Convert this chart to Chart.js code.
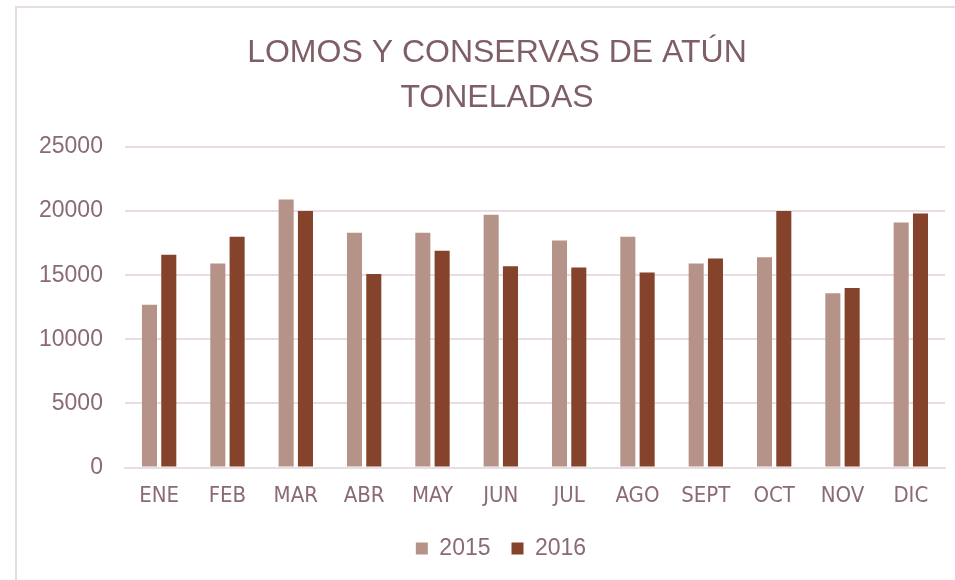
<!DOCTYPE html>
<html>
<head>
<meta charset="utf-8">
<script src="https://cdn.jsdelivr.net/npm/chart.js@4.4.0/dist/chart.umd.min.js"></script>
<style>
  html, body { margin: 0; padding: 0; background: #ffffff; overflow: hidden; width: 955px; height: 580px; }
  #frame { position: absolute; left: 15px; top: 6px; width: 980px; height: 600px; border-left: 2px solid #e6dde0; border-top: 2px solid #e6dde0; }
  #wrap { position: absolute; left: 16px; top: 8px; width: 962px; height: 572px; }
</style>
</head>
<body>
<div id="frame"></div>
<div id="wrap"><canvas id="c"></canvas></div>
<script>
const categories = ["ENE", "FEB", "MAR", "ABR", "MAY", "JUN", "JUL", "AGO", "SEPT", "OCT", "NOV", "DIC"];
const values2015 = [12700, 15900, 20900, 18300, 18300, 19700, 17700, 18000, 15900, 16400, 13600, 19100];
const values2016 = [16600, 18000, 20000, 15100, 16900, 15700, 15600, 15200, 16300, 20000, 14000, 19800];
const seriesNames = ["2015", "2016"];
const titleLines = ["LOMOS Y CONSERVAS DE ATÚN", "TONELADAS"];

const textColor = '#8a6b71';
const gridColor = '#e8dde0';
const narrowFont = "'Liberation Sans Narrow', 'DejaVu Sans Condensed', 'Liberation Sans', sans-serif";

// Center title and legend across the whole (cropped) chart frame
const recenterPlugin = {
  id: 'recenter',
  afterLayout(chart) {
    const w = chart.width;
    if (chart.titleBlock) { chart.titleBlock.left = 33; chart.titleBlock.right = w - 33; }
    if (chart.legend) { chart.legend.left = 37; chart.legend.right = w - 29; }
  }
};

new Chart(document.getElementById('c'), {
  type: 'bar',
  data: {
    labels: categories,
    datasets: [
      { label: seriesNames[0], data: values2015, backgroundColor: '#b59389', borderWidth: 0,
        categoryPercentage: 0.565, barPercentage: 0.78 },
      { label: seriesNames[1], data: values2016, backgroundColor: '#84432a', borderWidth: 0,
        categoryPercentage: 0.565, barPercentage: 0.78 }
    ]
  },
  plugins: [recenterPlugin],
  options: {
    responsive: true,
    maintainAspectRatio: false,
    animation: false,
    layout: { padding: { left: 1, right: 33, top: 0, bottom: 10 } },
    plugins: {
      tooltip: { enabled: false },
      title: {
        display: true,
        text: titleLines,
        color: '#7f5f66',
        font: { family: 'Liberation Sans', size: 32, weight: 'normal', lineHeight: 1.42 },
        padding: { top: 22, bottom: 26 }
      },
      legend: {
        position: 'bottom',
        labels: {
          color: textColor,
          font: { family: 'Liberation Sans', size: 23 },
          boxWidth: 12, boxHeight: 12,
          padding: 21
        }
      }
    },
    scales: {
      x: {
        grid: { display: false },
        border: { display: true, color: gridColor, width: 2 },
        ticks: { color: textColor, font: { family: narrowFont, size: 22 }, padding: 7, maxRotation: 0 }
      },
      y: {
        min: 0, max: 25000,
        grid: { color: gridColor, lineWidth: 2, drawTicks: false },
        border: { display: false },
        ticks: { stepSize: 5000, color: textColor, font: { family: 'Liberation Sans', size: 23 }, padding: 22,
                 callback: (v) => String(v) }
      }
    }
  }
});
</script>
</body>
</html>
